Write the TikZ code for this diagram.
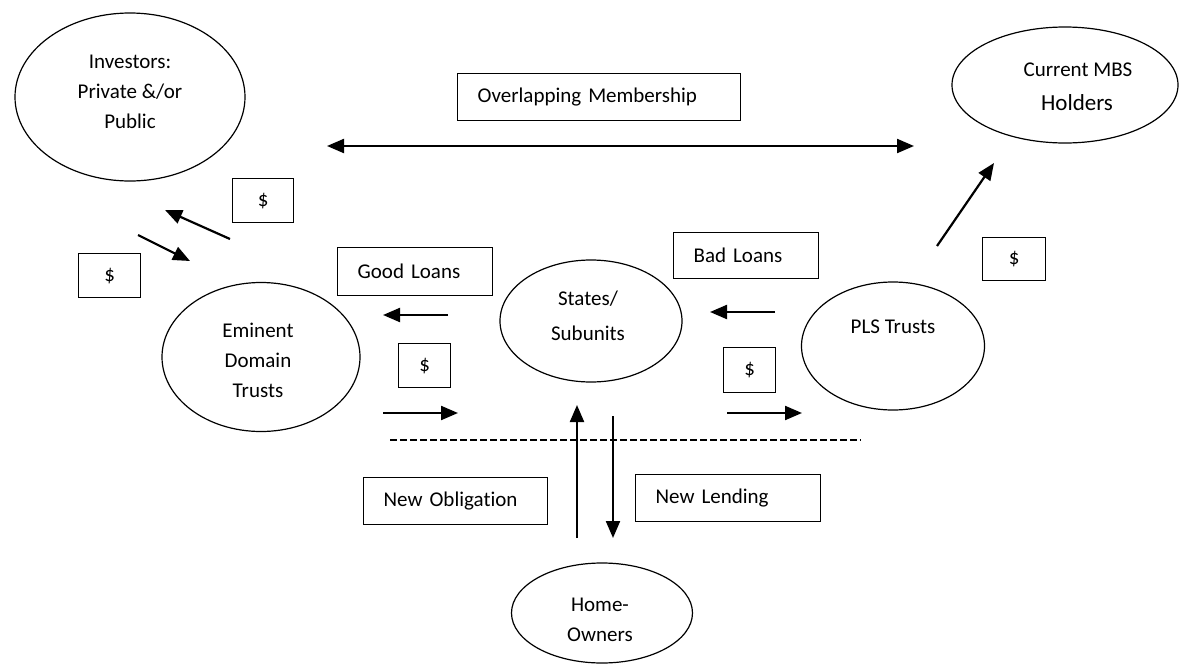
\documentclass[tikz,border=0pt]{standalone}
\usepackage{fontspec}
\setmainfont{Carlito}[Ligatures=NoCommon]
\usetikzlibrary{shapes.geometric,arrows.meta}
\begin{document}
\begin{tikzpicture}[x=1pt,y=-1pt,
 oval/.style={draw, ellipse, line width=1.2pt, inner sep=0pt},
 lbl/.style={font=\fontsize{21}{30}\selectfont, align=center, inner sep=0pt},
 tbox/.style={draw, line width=1.3pt, font=\fontsize{21}{24}\selectfont, inner xsep=20pt, inner ysep=0pt, align=left, anchor=north west},
 dbox/.style={draw, line width=1.3pt, font=\fontsize{21}{24}\selectfont, inner sep=0pt, anchor=north west},
 flow/.style={line width=2.2pt, -{Triangle[length=17pt,width=14pt]}},
 both/.style={line width=2.2pt, {Triangle[length=17pt,width=14pt]}-{Triangle[length=17pt,width=14pt]}},
]
\useasboundingbox (0,0) rectangle (1179,664);

% ellipses
\node[oval, minimum width=230pt, minimum height=168pt] (inv) at (130,97) {};
\node[oval, minimum width=226pt, minimum height=116pt] (mbs) at (1065,85) {};
\node[oval, minimum width=198pt, minimum height=149pt] (edt) at (261,357) {};
\node[oval, minimum width=182pt, minimum height=122pt] (sta) at (591,321) {};
\node[oval, minimum width=183pt, minimum height=128pt] (pls) at (893,346) {};
\node[oval, minimum width=181pt, minimum height=100pt] (hom) at (602,613) {};

% ellipse texts
\node[lbl] (tinv) at (130,92) {Investors:\\Private \&/or\\Public};
\node[lbl] (tmbs1) at (1078,70) {Current MBS};
\node[lbl, font=\fontsize{23}{26}\selectfont] (tmbs2) at (1077,103) {Holders};
\node[lbl] (tedt) at (258,360) {Eminent\\Domain\\Trusts};
\node[lbl, font=\fontsize{21}{35}\selectfont] (tsta) at (588,316) {States/\\Subunits};
\node[lbl] (tpls) at (893,327) {PLS Trusts};
\node[lbl] (thom) at (600,620) {Home-\\Owners};

% labelled boxes
\node[tbox, minimum height=47pt, text width=243pt] (om) at (457,73) {Overlapping Membership};
\node[tbox, minimum height=48pt, text width=115pt] (gl) at (337,247) {Good Loans};
\node[tbox, minimum height=46pt, text width=105pt] (bl) at (673,232) {Bad Loans};
\node[tbox, minimum height=47pt, text width=144pt] (no) at (363,477) {New Obligation};
\node[tbox, minimum height=47pt, text width=145pt] (nl) at (635,474) {New Lending};

% dollar boxes
\node[dbox, minimum width=61pt, minimum height=44pt] (d1) at (232,178) {\$};
\node[dbox, minimum width=62pt, minimum height=44pt] (d2) at (78,253) {\$};
\node[dbox, minimum width=52pt, minimum height=44pt] (d3) at (398,343) {\$};
\node[dbox, minimum width=52pt, minimum height=45pt] (d4) at (723,347) {\$};
\node[dbox, minimum width=63pt, minimum height=43pt] (d5) at (982,237) {\$};

% arrow end points
\coordinate (omL) at (327,146);
\coordinate (omR) at (914,146);
\coordinate (a1s) at (230,239); \coordinate (a1e) at (165,210);
\coordinate (a2s) at (138,235); \coordinate (a2e) at (190,261);
\coordinate (a3s) at (448,315); \coordinate (a3e) at (383,315);
\coordinate (a4s) at (383,413); \coordinate (a4e) at (458,413);
\coordinate (a5s) at (775,312); \coordinate (a5e) at (710,312);
\coordinate (a6s) at (727,413); \coordinate (a6e) at (802,413);
\coordinate (a7s) at (577,538); \coordinate (a7e) at (577,405);
\coordinate (a8s) at (613,416); \coordinate (a8e) at (613,538);
\coordinate (a9s) at (937,246); \coordinate (a9e) at (994,163);
\coordinate (dl) at (390,440); \coordinate (dr) at (861,440);

\draw[both] (omL) -- (omR);
\draw[flow] (a1s) -- (a1e);
\draw[flow] (a2s) -- (a2e);
\draw[flow] (a3s) -- (a3e);
\draw[flow] (a4s) -- (a4e);
\draw[flow] (a5s) -- (a5e);
\draw[flow] (a6s) -- (a6e);
\draw[flow] (a7s) -- (a7e);
\draw[flow] (a8s) -- (a8e);
\draw[flow] (a9s) -- (a9e);
\draw[line width=1.4pt, dash pattern=on 7pt off 3pt] (dl) -- (dr);
\end{tikzpicture}
\end{document}
